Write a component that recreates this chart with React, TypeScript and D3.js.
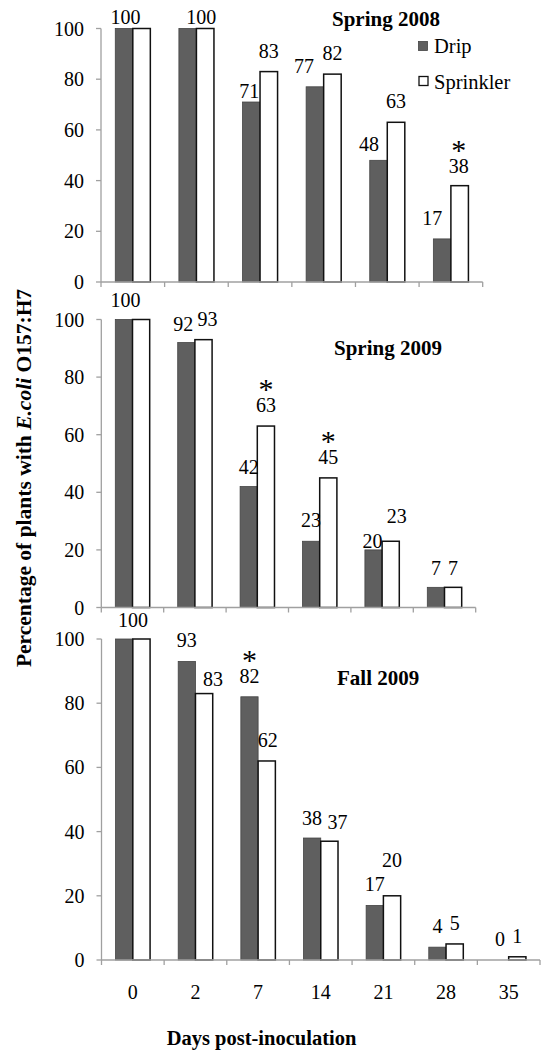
import React from "react";
import * as d3 from "d3";

// Days after inoculation (categories) and shared axis ticks
const days = ["0", "2", "7", "14", "21", "28", "35"];
const yTicks = [0, 20, 40, 60, 80, 100];
const seriesNames = ["Drip", "Sprinkler"];

// Percentage of plants still carrying E. coli O157:H7
const spring2008Drip = [100, 100, 71, 77, 48, 17];
const spring2008Sprinkler = [100, 100, 83, 82, 63, 38];
const spring2009Drip = [100, 92, 42, 23, 20, 7];
const spring2009Sprinkler = [100, 93, 63, 45, 23, 7];
const fall2009Drip = [100, 93, 82, 38, 17, 4, 0];
const fall2009Sprinkler = [100, 83, 62, 37, 20, 5, 1];

// Significant differences between irrigation methods: [series, day index]
const spring2008Signif: [string, number][] = [["Sprinkler", 5]];
const spring2009Signif: [string, number][] = [["Sprinkler", 2], ["Sprinkler", 3]];
const fall2009Signif: [string, number][] = [["Drip", 2]];

type Off = [number, number] | null;

interface PanelLayout {
  x0: number;
  x1: number;
  yTop: number;
  yBottom: number;
  titleX: number;
  titleY: number;
  // label nudges per day index (null hides the label)
  dripOff: Off[];
  sprOff: Off[];
  showXLabels: boolean;
}

const panels = [
  {
    title: "Spring 2008",
    drip: spring2008Drip,
    sprinkler: spring2008Sprinkler,
    signif: spring2008Signif,
    legend: true,
    layout: {
      x0: 101, x1: 482.7, yTop: 28.5, yBottom: 282, titleX: 332, titleY: 26,
      dripOff: [[1.5, 9.5], null, [-2, 10], [-11, 0.5], [-9.5, 4.4], [-10, 0]],
      sprOff: [null, [-4, 9.5], [0, 0.7], [0, 0], [0, 0], [-1, 1]],
      showXLabels: false,
    } as PanelLayout,
  },
  {
    title: "Spring 2009",
    drip: spring2009Drip,
    sprinkler: spring2009Sprinkler,
    signif: spring2009Signif,
    legend: false,
    layout: {
      x0: 101.3, x1: 475.7, yTop: 319.5, yBottom: 607.5, titleX: 334, titleY: 355,
      dripOff: [[1.7, 1], [-3, 2], [0, 1], [0, 0], [-1, 12], [0, 2]],
      sprOff: [null, [4, 0], [0, 0], [0, 0], [6, -4.6], [0, 2]],
      showXLabels: false,
    } as PanelLayout,
  },
  {
    title: "Fall 2009",
    drip: fall2009Drip,
    sprinkler: fall2009Sprinkler,
    signif: fall2009Signif,
    legend: false,
    layout: {
      x0: 101.5, x1: 540, yTop: 639, yBottom: 960, titleX: 337, titleY: 685,
      dripOff: [[8.8, 2], [0, 0], [0, 0], [0, 1], [0, 0], [0, 0], [0, 0]],
      sprOff: [null, [9, 6.4], [1, 0], [8, 2], [0, -15], [0, 0], [0, 0]],
      showXLabels: true,
    } as PanelLayout,
  },
];

const SERIF = "Liberation Serif";
const AXIS = "#a0a0a0";
const DRIP_FILL = "#5f5f5f";
const LABEL_GAP = 14;

const txt = { fontFamily: SERIF, fill: "#000" };

function Panel({ p }: { p: (typeof panels)[number] }) {
  const L = p.layout;
  const n = p.drip.length;
  const cats = days.slice(0, n);
  const x = d3
    .scaleBand<string>()
    .domain(cats)
    .range([L.x0, L.x1])
    .paddingInner(0.449)
    .paddingOuter(0.2245);
  const xs = d3.scaleBand<string>().domain(seriesNames).range([0, x.bandwidth()]);
  const y = d3.scaleLinear().domain([0, 100]).range([L.yBottom, L.yTop]);
  const step = x.step();
  const boundaries = d3.range(n + 1).map((i) => L.x0 + i * step);

  const labelPos = (series: string, i: number, v: number, off: Off) => {
    if (!off) return null;
    const cx = (x(cats[i]) as number) + (xs(series) as number) + xs.bandwidth() / 2 + off[0];
    const by = y(v) - LABEL_GAP + off[1];
    return { cx, by };
  };

  const labels: { key: string; text: string; cx: number; by: number; series: string; i: number }[] = [];
  p.drip.forEach((v, i) => {
    const pos = labelPos("Drip", i, v, L.dripOff[i]);
    if (pos) labels.push({ key: `d${i}`, text: String(v), series: "Drip", i, ...pos });
  });
  p.sprinkler.forEach((v, i) => {
    const pos = labelPos("Sprinkler", i, v, L.sprOff[i]);
    if (pos) labels.push({ key: `s${i}`, text: String(v), series: "Sprinkler", i, ...pos });
  });

  return (
    <g>
      {/* bars */}
      {cats.map((c, i) => (
        <g key={c}>
          <rect
            x={(x(c) as number) + (xs("Drip") as number)}
            y={y(p.drip[i])}
            width={xs.bandwidth()}
            height={L.yBottom - y(p.drip[i])}
            fill={DRIP_FILL}
            stroke="#444"
            strokeWidth={0.8}
          />
          <rect
            x={(x(c) as number) + (xs("Sprinkler") as number)}
            y={y(p.sprinkler[i])}
            width={xs.bandwidth()}
            height={L.yBottom - y(p.sprinkler[i])}
            fill="#ffffff"
            stroke="#111"
            strokeWidth={1.5}
          />
        </g>
      ))}

      {/* y axis */}
      <line x1={L.x0} x2={L.x0} y1={L.yTop} y2={L.yBottom} stroke={AXIS} strokeWidth={1.3} />
      {yTicks.map((t) => (
        <g key={t}>
          <line x1={L.x0 - 5} x2={L.x0} y1={y(t)} y2={y(t)} stroke={AXIS} strokeWidth={1.3} />
          <text x={L.x0 - 17} y={y(t)} dy="0.35em" textAnchor="end" fontSize={20} style={txt}>
            {t}
          </text>
        </g>
      ))}

      {/* x axis */}
      <line x1={L.x0} x2={L.x1} y1={L.yBottom} y2={L.yBottom} stroke={AXIS} strokeWidth={1.3} />
      {boundaries.map((bx, i) => (
        <line key={i} x1={bx} x2={bx} y1={L.yBottom} y2={L.yBottom + 5} stroke={AXIS} strokeWidth={1.3} />
      ))}
      {L.showXLabels &&
        cats.map((c) => (
          <text
            key={c}
            x={(x(c) as number) + x.bandwidth() / 2}
            y={L.yBottom + 39}
            textAnchor="middle"
            fontSize={20}
            style={txt}
          >
            {c}
          </text>
        ))}

      {/* value labels */}
      {labels.map((l) => (
        <text key={l.key} x={l.cx} y={l.by} textAnchor="middle" fontSize={20} style={txt}>
          {l.text}
        </text>
      ))}

      {/* significance markers */}
      {p.signif.map(([series, i]) => {
        const l = labels.find((q) => q.series === series && q.i === i);
        if (!l) return null;
        return (
          <text key={`${series}${i}`} x={l.cx} y={l.by - 13} textAnchor="middle" fontSize={30} style={txt}>
            *
          </text>
        );
      })}

      {/* panel title */}
      <text x={L.titleX} y={L.titleY} fontSize={21} fontWeight="bold" style={txt}>
        {p.title}
      </text>

      {/* legend */}
      {p.legend && (
        <g>
          <rect x={418.5} y={41.5} width={9} height={9} fill={DRIP_FILL} stroke="#444" strokeWidth={0.8} />
          <text x={434} y={53} fontSize={20.5} style={txt}>
            {seriesNames[0]}
          </text>
          <rect x={419} y={76.5} width={9} height={9} fill="#fff" stroke="#111" strokeWidth={1.3} />
          <text x={434} y={89} fontSize={20.5} style={txt}>
            {seriesNames[1]}
          </text>
        </g>
      )}
    </g>
  );
}

export default function App() {
  return (
    <svg
      width={542}
      height={1050}
      viewBox="0 0 542 1050"
      style={{ position: "absolute", left: 0, top: 0, background: "#fff" }}
    >
      <rect width={542} height={1050} fill="#fff" />
      {panels.map((p) => (
        <Panel key={p.title} p={p} />
      ))}
      <text
        transform="translate(31,478) rotate(-90)"
        textAnchor="middle"
        fontSize={21.5}
        fontWeight="bold"
        style={txt}
      >
        Percentage of plants with <tspan fontStyle="italic">E.coli</tspan> O157:H7
      </text>
      <text x={261.5} y={1045} textAnchor="middle" fontSize={20.5} fontWeight="bold" style={txt}>
        Days post-inoculation
      </text>
    </svg>
  );
}
